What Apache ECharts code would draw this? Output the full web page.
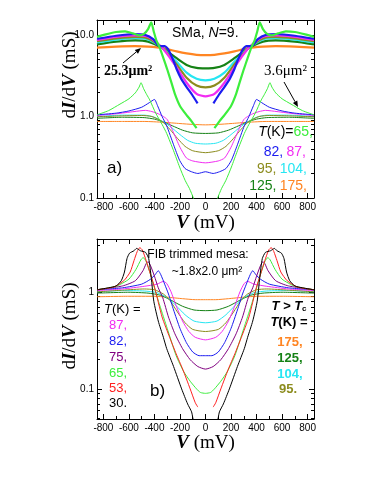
<!DOCTYPE html>
<html>
<head>
<meta charset="utf-8">
<script src="https://cdn.jsdelivr.net/npm/echarts@6/dist/echarts.min.js"></script>
<style>
html, body { margin: 0; padding: 0; background: #fff; }
#container { width: 388px; height: 502px; }
</style>
</head>
<body>
<div id="container"></div>
<script>
// tick values
var voltTicks = [-800, -600, -400, -200, 0, 200, 400, 600, 800];
var voltMinor = [-700, -500, -300, -100, 100, 300, 500, 700];
var condTicksA = [0.1, 1, 10];
var condMinorA = [0.2, 0.3, 0.4, 0.5, 0.6, 0.7, 0.8, 0.9, 2, 3, 4, 5, 6, 7, 8, 9];
var condTicksB = [0.1, 1];
var condMinorB = [0.05, 0.06, 0.07, 0.08, 0.09, 0.2, 0.3, 0.4, 0.5, 0.6, 0.7, 0.8, 0.9, 2, 3];

// colours per temperature
var colT = {
    30: '#000000', 53: '#ff2020', 65: '#3cee3c', 75: '#800080', 82: '#1c1cf0',
    87: '#f22cf2', 95: '#8c8c1e', 104: '#26e6f2', 125: '#168216', 175: '#ff8522'
};

// a) big mesa 25.3 um^2, half curves V<=0 (mirrored to V>0)
var bigA65 = [[-850,9.5],[-780,10.2],[-700,10.9],[-630,11.1],[-570,10.5],[-520,9.9],[-480,10.4],[-450,11.8],[-425,14.3],[-405,11.0],[-385,8.6],[-360,7.1],[-330,5.2],[-300,3.8],[-270,2.7],[-240,1.9],[-200,1.35],[-150,1.05],[-110,0.88],[-70,0.72]];
var bigA82 = [[-850,9.0],[-700,9.8],[-560,10.3],[-470,10.0],[-410,8.9],[-360,7.3],[-320,7.3],[-290,6.6],[-250,4.8],[-226,3.8],[-190,2.9],[-148,2.3],[-105,1.85],[-62,1.45]];
var bigA87 = [[-850,8.7],[-700,9.5],[-550,9.9],[-450,9.5],[-340,7.0],[-280,5.3],[-226,4.0],[-148,2.6],[-70,1.9],[0,1.77]];
var bigA95 = [[-850,8.4],[-700,9.1],[-550,9.5],[-450,9.1],[-340,7.0],[-280,5.5],[-226,4.35],[-148,3.0],[-70,2.4],[0,2.28]];
var bigA104 = [[-850,8.1],[-700,8.8],[-550,9.2],[-450,8.8],[-340,7.0],[-280,5.7],[-226,4.7],[-148,3.45],[-70,2.9],[0,2.78]];
var bigA125 = [[-850,7.7],[-700,8.3],[-550,8.6],[-450,8.3],[-340,7.0],[-280,6.0],[-226,5.2],[-148,4.3],[-70,3.95],[0,3.9]];
var bigA175 = [[-850,7.0],[-700,7.2],[-550,7.3],[-450,7.2],[-340,6.95],[-226,6.3],[-148,5.95],[-70,5.72],[0,5.66]];

// a) small mesa 3.6 um^2
var smallA65 = [[-850,1.05],[-760,1.18],[-670,1.42],[-600,1.65],[-550,1.95],[-520,2.3],[-505,2.6],[-485,2.2],[-460,1.85],[-437,1.6],[-390,1.1],[-340,0.8],[-304,0.62],[-250,0.38],[-203,0.24],[-160,0.165],[-125,0.13],[-95,0.1],[-70,0.075],[0,0.05]];
var smallA82 = [[-850,1.05],[-700,1.1],[-600,1.17],[-500,1.3],[-440,1.48],[-400,1.62],[-375,1.35],[-340,1.0],[-304,0.77],[-250,0.45],[-203,0.29],[-160,0.23],[-110,0.21],[-60,0.2],[0,0.21]];
var smallA87 = [[-850,1.03],[-700,1.08],[-560,1.15],[-470,1.19],[-420,1.15],[-370,1.08],[-330,1.0],[-300,0.92],[-257,0.67],[-200,0.42],[-150,0.31],[-100,0.285],[0,0.27]];
var smallA95 = [[-850,0.99],[-650,1.02],[-500,1.03],[-420,1.0],[-340,0.87],[-280,0.7],[-220,0.54],[-160,0.43],[-100,0.38],[0,0.36]];
var smallA104 = [[-850,1.0],[-650,1.04],[-480,1.04],[-400,0.98],[-330,0.86],[-270,0.74],[-200,0.6],[-140,0.51],[-80,0.47],[0,0.46]];
var smallA125 = [[-850,0.95],[-650,0.98],[-480,0.97],[-400,0.93],[-330,0.86],[-260,0.77],[-180,0.68],[-100,0.63],[0,0.62]];
var smallA175 = [[-850,0.87],[-650,0.87],[-480,0.87],[-330,0.85],[-200,0.82],[-100,0.8],[0,0.79]];

// b) FIB trimmed mesa
var fibB30 = [[-850,1.05],[-760,1.1],[-700,1.15],[-660,1.3],[-635,1.6],[-615,2.2],[-595,2.5],[-560,2.65],[-540,2.8],[-510,2.65],[-470,2.55],[-445,2.2],[-425,1.4],[-405,0.8],[-370,0.5],[-330,0.34],[-304,0.26],[-250,0.17],[-187,0.1],[-140,0.07],[-109,0.058],[-90,0.045],[0,0.03]];
var fibB53 = [[-850,1.05],[-720,1.12],[-640,1.3],[-590,1.6],[-560,2.1],[-535,2.6],[-515,2.85],[-495,2.7],[-465,2.1],[-430,1.5],[-398,1.1],[-340,0.55],[-281,0.34],[-230,0.23],[-179,0.16],[-120,0.1],[-80,0.072],[-60,0.065]];
var fibB65 = [[-850,1.05],[-700,1.14],[-600,1.35],[-545,1.7],[-505,2.15],[-488,2.25],[-465,2.05],[-430,1.5],[-400,1.1],[-359,0.73],[-300,0.42],[-230,0.22],[-170,0.15],[-120,0.12],[-70,0.1],[-40,0.092],[0,0.09]];
var fibB75 = [[-850,1.05],[-650,1.15],[-550,1.3],[-490,1.65],[-465,1.95],[-450,2.05],[-430,1.85],[-400,1.45],[-370,1.1],[-335,0.87],[-290,0.55],[-240,0.37],[-180,0.26],[-120,0.2],[-60,0.17],[0,0.16]];
var fibB82 = [[-850,1.05],[-650,1.1],[-500,1.2],[-430,1.35],[-395,1.5],[-370,1.65],[-350,1.5],[-320,1.2],[-290,0.95],[-250,0.65],[-200,0.42],[-150,0.3],[-100,0.24],[-50,0.22],[0,0.22]];
var fibB87 = [[-850,1.03],[-650,1.07],[-480,1.14],[-380,1.2],[-330,1.28],[-304,1.22],[-270,1.0],[-230,0.72],[-180,0.5],[-130,0.39],[-80,0.34],[0,0.32]];
var fibB95 = [[-850,1.0],[-650,1.04],[-480,1.07],[-400,1.05],[-330,0.95],[-280,0.82],[-220,0.62],[-160,0.48],[-100,0.41],[0,0.39]];
var fibB104 = [[-850,1.0],[-650,1.03],[-480,1.02],[-380,0.98],[-300,0.87],[-230,0.72],[-160,0.58],[-90,0.5],[0,0.48]];
var fibB125 = [[-850,0.97],[-600,0.99],[-450,0.97],[-350,0.92],[-270,0.82],[-180,0.71],[-90,0.65],[0,0.64]];
var fibB175 = [[-850,0.89],[-600,0.9],[-400,0.9],[-300,0.88],[-180,0.85],[-80,0.83],[0,0.83]];

var SANS = '"Liberation Sans", Arial, sans-serif';
var SERIF = '"Liberation Serif", "Times New Roman", serif';

function mirrorCurve(half, gap) {
    var out = half.slice();
    if (gap) out.push([0, null]);
    for (var i = half.length - 1; i >= 0; i--) {
        if (half[i][0] === 0) continue;
        out.push([-half[i][0], half[i][1]]);
    }
    return out;
}

function curve(half, gap, temp, width, g) {
    return {
        type: 'line',
        data: mirrorCurve(half, gap),
        xAxisIndex: g * 4,
        yAxisIndex: g * 5,
        symbol: 'none',
        smooth: 0.2,
        connectNulls: false,
        silent: true,
        animation: false,
        lineStyle: { color: colT[temp], width: width },
        itemStyle: { color: colT[temp] }
    };
}

function lg(list) {
    return list.map(function (v) { return Math.log10(v); });
}

// x axes: main bottom, bottom minor, top major, top minor
function xAxes(g, nameGap) {
    var base = { type: 'value', gridIndex: g, min: -850, max: 850, splitLine: { show: false } };
    var main = Object.assign({}, base, {
        position: 'bottom',
        axisLine: { onZero: false, lineStyle: { color: '#000', width: 1 } },
        axisTick: { inside: true, length: 5, customValues: voltTicks, lineStyle: { color: '#000' } },
        axisLabel: { customValues: voltTicks, fontFamily: SANS, fontSize: 10, color: '#000', margin: 4 },
        name: '{b|V}{n| (mV)}',
        nameLocation: 'middle',
        nameGap: nameGap,
        nameTextStyle: {
            rich: {
                b: { fontFamily: SERIF, fontSize: 19, fontWeight: 'bold', fontStyle: 'italic', color: '#000' },
                n: { fontFamily: SERIF, fontSize: 19, color: '#000' }
            }
        }
    });
    var minorB = Object.assign({}, base, {
        position: 'bottom',
        axisLine: { show: false, onZero: false },
        axisTick: { inside: true, length: 3, customValues: voltMinor, lineStyle: { color: '#000' } },
        axisLabel: { show: false }
    });
    var top = Object.assign({}, base, {
        position: 'top',
        axisLine: { onZero: false, lineStyle: { color: '#000', width: 1 } },
        axisTick: { inside: true, length: 5, customValues: voltTicks, lineStyle: { color: '#000' } },
        axisLabel: { show: false }
    });
    var minorT = Object.assign({}, base, {
        position: 'top',
        axisLine: { show: false, onZero: false },
        axisTick: { inside: true, length: 3, customValues: voltMinor, lineStyle: { color: '#000' } },
        axisLabel: { show: false }
    });
    return [main, minorB, top, minorT];
}

// y axes: log data axis, left major (labels), left minor, right major, right minor
function yAxes(g, lo, hi, ticks, minor, fmt) {
    var base = { type: 'value', gridIndex: g, min: Math.log10(lo), max: Math.log10(hi), splitLine: { show: false } };
    var dataAxis = { type: 'log', logBase: 10, gridIndex: g, min: lo, max: hi, show: false, splitLine: { show: false } };
    var left = Object.assign({}, base, {
        position: 'left',
        axisLine: { show: true, onZero: false, lineStyle: { color: '#000', width: 1 } },
        axisTick: { inside: true, length: 5, customValues: lg(ticks), lineStyle: { color: '#000' } },
        axisLabel: { customValues: lg(ticks), formatter: fmt, fontFamily: SANS, fontSize: 10, color: '#000', margin: 3 }
    });
    var leftMinor = Object.assign({}, base, {
        position: 'left',
        axisLine: { show: false, onZero: false },
        axisTick: { inside: true, length: 3, customValues: lg(minor), lineStyle: { color: '#000' } },
        axisLabel: { show: false }
    });
    var right = Object.assign({}, base, {
        position: 'right',
        axisLine: { show: true, onZero: false, lineStyle: { color: '#000', width: 1 } },
        axisTick: { inside: true, length: 5, customValues: lg(ticks), lineStyle: { color: '#000' } },
        axisLabel: { show: false }
    });
    var rightMinor = Object.assign({}, base, {
        position: 'right',
        axisLine: { show: false, onZero: false },
        axisTick: { inside: true, length: 3, customValues: lg(minor), lineStyle: { color: '#000' } },
        axisLabel: { show: false }
    });
    return [dataAxis, left, leftMinor, right, rightMinor];
}

function fmtA(v) { return Math.pow(10, v).toFixed(1); }
function fmtB(v) { return String(+Math.pow(10, v).toPrecision(1)); }

function txt(x, y, text, font, align, rich) {
    var st = { text: text, fill: '#000', align: align || 'left', verticalAlign: 'middle' };
    if (font) st.font = font;
    if (rich) st.rich = rich;
    return { type: 'text', x: x, y: y, silent: true, style: st };
}

function arrow(x1, y1, x2, y2) {
    var ang = Math.atan2(y2 - y1, x2 - x1), L = 6, W = 2.5;
    var bx = x2 - L * Math.cos(ang), by = y2 - L * Math.sin(ang);
    var px = -Math.sin(ang) * W, py = Math.cos(ang) * W;
    return [
        { type: 'line', silent: true, shape: { x1: x1, y1: y1, x2: bx, y2: by }, style: { stroke: '#000', lineWidth: 1 } },
        { type: 'polygon', silent: true, shape: { points: [[x2, y2], [bx + px, by + py], [bx - px, by - py]] }, style: { fill: '#000' } }
    ];
}

// rich styles for coloured temperature labels (zrender uses fill)
function richNum(size, bold) {
    var w = bold ? 'bold' : 'normal';
    var r = {};
    Object.keys(colT).forEach(function (k) {
        r['c' + k] = { fontFamily: SANS, fontSize: size, fontWeight: w, fill: colT[k] };
    });
    r.k = { fontFamily: SANS, fontSize: size, fontWeight: w, fill: '#000' };
    r.ki = { fontFamily: SANS, fontSize: size, fontWeight: w, fontStyle: 'italic', fill: '#000' };
    r.sub = { fontFamily: SANS, fontSize: 8, fontWeight: 'bold', fill: '#000', verticalAlign: 'bottom', padding: [6, 0, 0, 0] };
    return r;
}

var yTitleRich = {
    n: { fontFamily: SERIF, fontSize: 19, fill: '#000' },
    b: { fontFamily: SERIF, fontSize: 19, fontWeight: 'bold', fontStyle: 'italic', fill: '#000' }
};
var yTitle = '{n|d}{b|I}{n|/d}{b|V}{n| (mS)}';

var rA = richNum(14, false), rBl = richNum(13, false), rBr = richNum(13, true);

var graphics = [
    // y titles
    { type: 'text', x: 70, y: 75, rotation: Math.PI / 2, silent: true,
      style: { text: yTitle, rich: yTitleRich, align: 'center', verticalAlign: 'middle' } },
    { type: 'text', x: 70, y: 326, rotation: Math.PI / 2, silent: true,
      style: { text: yTitle, rich: yTitleRich, align: 'center', verticalAlign: 'middle' } },
    // panel a texts
    txt(172, 33, '{k|SMa, }{ki|N}{k|=9.}', null, 'left', rA),
    txt(104, 71, '25.3\u03bcm\u00b2', 'bold 14px ' + SERIF, 'left'),
    txt(264, 71, '3.6\u03bcm\u00b2', '15px ' + SERIF, 'left'),
    txt(313, 132, '{ki|T}{k|(K)=}{c65|65,}', null, 'right', rA),
    txt(306, 152, '{c82|82,} {c87|87,}', null, 'right', rA),
    txt(307, 169, '{c95|95,} {c104|104,}', null, 'right', rA),
    txt(307, 186, '{c125|125,} {c175|175,}', null, 'right', rA),
    txt(107, 168, 'a)', '17px ' + SANS, 'left'),
    // panel b texts
    txt(198, 255, 'FIB trimmed mesa:', '12px ' + SANS, 'center'),
    txt(207, 272, '~1.8x2.0 \u03bcm\u00b2', '12px ' + SANS, 'center'),
    txt(104, 309, '{ki|T}{k|(K) =}', null, 'left', rBl),
    txt(109, 325, '{c87|87,}', null, 'left', rBl),
    txt(109, 341, '{c82|82,}', null, 'left', rBl),
    txt(109, 357, '{c75|75,}', null, 'left', rBl),
    txt(109, 373, '{c65|65,}', null, 'left', rBl),
    txt(109, 388, '{c53|53,}', null, 'left', rBl),
    txt(109, 403, '{k|30.}', null, 'left', rBl),
    txt(150, 391, 'b)', '17px ' + SANS, 'left'),
    txt(289, 306, '{ki|T >}{ki| T}{sub|c}', null, 'center', rBr),
    txt(289, 322, '{ki|T}{k|(K) =}', null, 'center', rBr),
    txt(290, 342, '{c175|175,}', null, 'center', rBr),
    txt(290, 358, '{c125|125,}', null, 'center', rBr),
    txt(290, 374, '{c104|104,}', null, 'center', rBr),
    txt(288, 389, '{c95|95.}', null, 'center', rBr)
].concat(arrow(123, 63, 141, 48)).concat(arrow(284, 82, 298, 107));

var series = [
    curve(smallA175, false, 175, 1, 0),
    curve(smallA125, false, 125, 1, 0),
    curve(smallA104, false, 104, 1, 0),
    curve(smallA95, false, 95, 1, 0),
    curve(smallA87, false, 87, 1, 0),
    curve(smallA82, false, 82, 1, 0),
    curve(smallA65, false, 65, 1, 0),
    curve(bigA175, false, 175, 2.2, 0),
    curve(bigA125, false, 125, 2.2, 0),
    curve(bigA104, false, 104, 2.2, 0),
    curve(bigA95, false, 95, 2.2, 0),
    curve(bigA87, false, 87, 2.2, 0),
    curve(bigA82, true, 82, 2.2, 0),
    curve(bigA65, true, 65, 2.2, 0),
    curve(fibB175, false, 175, 1, 1),
    curve(fibB125, false, 125, 1, 1),
    curve(fibB104, false, 104, 1, 1),
    curve(fibB95, false, 95, 1, 1),
    curve(fibB87, false, 87, 1, 1),
    curve(fibB82, false, 82, 1, 1),
    curve(fibB75, false, 75, 1, 1),
    curve(fibB65, false, 65, 1, 1),
    curve(fibB53, true, 53, 1, 1),
    curve(fibB30, false, 30, 1, 1)
];

var myChart = echarts.init(document.getElementById('container'), null, { renderer: 'canvas' });
myChart.setOption({
    animation: false,
    backgroundColor: '#fff',
    grid: [
        { left: 97, top: 20, width: 217, height: 178 },
        { left: 97, top: 239, width: 217, height: 180 }
    ],
    xAxis: xAxes(0, 16).concat(xAxes(1, 15)),
    yAxis: yAxes(0, 0.1, 15.3, condTicksA, condMinorA, fmtA).concat(yAxes(1, 0.049, 3.5, condTicksB, condMinorB, fmtB)),
    series: series,
    graphic: graphics
});
</script>
</body>
</html>
